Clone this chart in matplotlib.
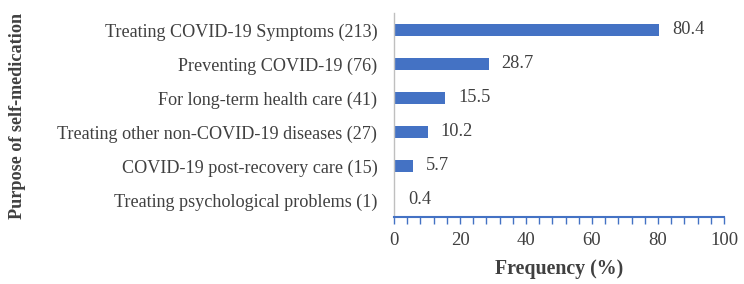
import matplotlib
matplotlib.use("Agg")
import matplotlib.pyplot as plt
import numpy as np

categories = [
    "Treating COVID-19 Symptoms (213)",
    "Preventing COVID-19 (76)",
    "For long-term health care (41)",
    "Treating other non-COVID-19 diseases (27)",
    "COVID-19 post-recovery care (15)",
    "Treating psychological problems (1)",
]
values = [80.4, 28.7, 15.5, 10.2, 5.7, 0.4]
value_labels = ["80.4", "28.7", "15.5", "10.2", "5.7", "0.4"]
x_ticks = [0, 20, 40, 60, 80, 100]

plt.rcParams['font.family'] = ['Liberation Serif', 'DejaVu Serif']

fig = plt.figure(figsize=(7.44, 2.84), dpi=100)
ax = fig.add_axes([394/744, 1 - 217/284, (724-394)/744, (217-13)/284])

blue = "#4472C4"
txt = "#404040"
y = np.arange(len(categories))
ax.barh(y, values, height=0.36, color=blue)
ax.set_ylim(len(categories) - 0.5, -0.5)
ax.set_xlim(0, 100)

for yi, v, lab in zip(y, values, value_labels):
    ax.annotate(lab, (v, yi), xytext=(13, 0), textcoords="offset pixels",
                va="center", ha="left", fontsize=13.2, color=txt)

ax.set_yticks(y)
ax.set_yticklabels(categories, fontsize=13.1, color=txt)
ax.tick_params(axis="y", length=0, pad=12)
ax.set_xticks(x_ticks)
ax.set_xticks(np.arange(0, 101, 4), minor=True)
ax.set_xticklabels([str(t) for t in x_ticks], fontsize=13.5, color=txt)
ax.tick_params(axis="x", which="both", direction="out", length=5, color=blue, width=1.0, pad=6)

for s in ["top", "right"]:
    ax.spines[s].set_visible(False)
ax.spines["bottom"].set_color(blue)
ax.spines["bottom"].set_linewidth(1.5)
ax.spines["left"].set_color("#BFBFBF")
ax.spines["left"].set_linewidth(1.0)

ax.set_xlabel("Frequency (%)", fontsize=14.3, fontweight="bold", color=txt, labelpad=7)
fig.text(18/744, 1 - 116/284, "Purpose of self-medication", rotation=90, fontsize=13.1,
         fontweight="bold", color=txt, ha="center", va="center")

fig.savefig("out.png", dpi=100)
